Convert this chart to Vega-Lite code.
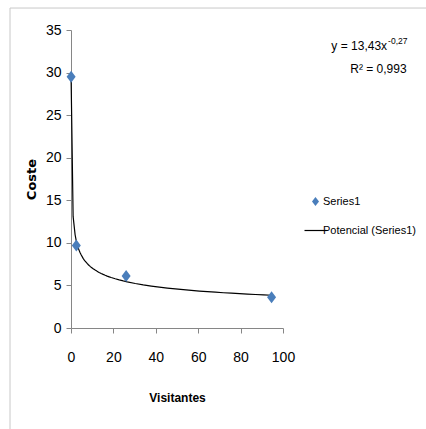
{
  "$schema": "https://vega.github.io/schema/vega-lite/v6.json",
  "autosize": "none",
  "width": 212,
  "height": 298,
  "padding": {"left": 71, "top": 30, "right": 143, "bottom": 101},
  "background": "white",
  "config": {
    "view": {"stroke": null},
    "font": "Liberation Sans, Arial, sans-serif"
  },
  "datasets": {
    "pts": [
      {"Visitantes": 0.05, "Coste": 29.5},
      {"Visitantes": 2.5, "Coste": 9.7},
      {"Visitantes": 26, "Coste": 6.1},
      {"Visitantes": 94.6, "Coste": 3.6}
    ]
  },
  "layer": [
    {
      "data": {"values": [{}]},
      "mark": {"type": "rule", "color": "#c8c8c8", "strokeWidth": 1, "clip": false},
      "encoding": {
        "x": {"datum": -28.77, "type": "quantitative"},
        "y": {"datum": 37.58, "type": "quantitative"},
        "y2": {"datum": -11.9}
      }
    },
    {
      "data": {"values": [{}]},
      "mark": {"type": "rule", "color": "#c8c8c8", "strokeWidth": 1, "clip": false},
      "encoding": {
        "x": {"datum": -28.77, "type": "quantitative"},
        "x2": {"datum": 168},
        "y": {"datum": 37.58, "type": "quantitative"}
      }
    },
    {
      "data": {"name": "pts"},
      "transform": [{"regression": "Coste", "on": "Visitantes", "method": "pow"}],
      "mark": {"type": "line", "strokeWidth": 1.2, "clip": false},
      "encoding": {
        "x": {
          "field": "Visitantes",
          "type": "quantitative",
          "scale": {"domain": [0, 100], "nice": false, "zero": false},
          "axis": {
            "values": [0, 20, 40, 60, 80, 100],
            "grid": false,
            "labelFlush": false,
            "domainColor": "#868686",
            "tickColor": "#868686",
            "tickSize": 5,
            "labelPadding": 17,
            "labelFontSize": 14,
            "labelColor": "black",
            "title": "Visitantes",
            "titleFontSize": 12,
            "titleFontWeight": "bold",
            "titleColor": "black",
            "titlePadding": 28
          }
        },
        "y": {
          "field": "Coste",
          "type": "quantitative",
          "scale": {"domain": [0, 35], "nice": false, "zero": false},
          "axis": {
            "values": [0, 5, 10, 15, 20, 25, 30, 35],
            "grid": false,
            "labelFlush": false,
            "domainColor": "#868686",
            "tickColor": "#868686",
            "tickSize": 5,
            "labelPadding": 5,
            "labelFontSize": 14,
            "labelColor": "black",
            "title": "Coste",
            "titleFont": "DejaVu Sans",
            "titleFontSize": 13,
            "titleFontWeight": "bold",
            "titleColor": "black",
            "titlePadding": 7
          }
        },
        "color": {
          "datum": "Potencial (Series1)",
          "scale": {"domain": ["Series1", "Potencial (Series1)"], "range": ["#4A7EBB", "#000000"]},
          "legend": {
            "orient": "none",
            "legendX": 239,
            "legendY": 166,
            "title": null,
            "symbolType": "stroke",
            "symbolSize": 484,
            "symbolStrokeWidth": 1.2,
            "labelFontSize": 11,
            "labelColor": "black",
            "labelOffset": 2,
            "labelLimit": 200,
            "rowPadding": 17,
            "padding": 0,
            "symbolOffset": 0,
            "encode": {
              "symbols": {
                "update": {
                  "shape": {"signal": "datum.value === 'Series1' ? 'M0,-0.41L0.32,0L0,0.41L-0.32,0Z' : 'stroke'"},
                  "fill": {"signal": "datum.value === 'Series1' ? '#4A7EBB' : 'transparent'"},
                  "stroke": {"signal": "datum.value === 'Series1' ? '#4A7EBB' : '#000000'"},
                  "strokeWidth": {"signal": "datum.value === 'Series1' ? 0 : 1.2"}
                }
              }
            }
          }
        }
      }
    },
    {
      "data": {"name": "pts"},
      "mark": {
        "type": "point",
        "filled": true,
        "opacity": 1,
        "size": 100,
        "shape": "M0,-1.2L0.9,0L0,1.2L-0.9,0Z",
        "clip": false
      },
      "encoding": {
        "x": {"field": "Visitantes", "type": "quantitative"},
        "y": {"field": "Coste", "type": "quantitative"},
        "color": {"datum": "Series1"}
      }
    },
    {
      "data": {"values": [{}]},
      "mark": {"type": "text", "text": "y = 13,43x", "align": "right", "baseline": "alphabetic", "fontSize": 12, "color": "black"},
      "encoding": {
        "x": {"datum": 149.1, "type": "quantitative"},
        "y": {"datum": 32.65, "type": "quantitative"}
      }
    },
    {
      "data": {"values": [{}]},
      "mark": {"type": "text", "text": "-0,27", "align": "left", "baseline": "alphabetic", "fontSize": 8.5, "color": "black", "dx": 1},
      "encoding": {
        "x": {"datum": 149.1, "type": "quantitative"},
        "y": {"datum": 33.35, "type": "quantitative"}
      }
    },
    {
      "data": {"values": [{}]},
      "mark": {"type": "text", "text": "R² = 0,993", "align": "center", "baseline": "alphabetic", "fontSize": 12, "color": "black"},
      "encoding": {
        "x": {"datum": 145, "type": "quantitative"},
        "y": {"datum": 29.9, "type": "quantitative"}
      }
    }
  ]
}
